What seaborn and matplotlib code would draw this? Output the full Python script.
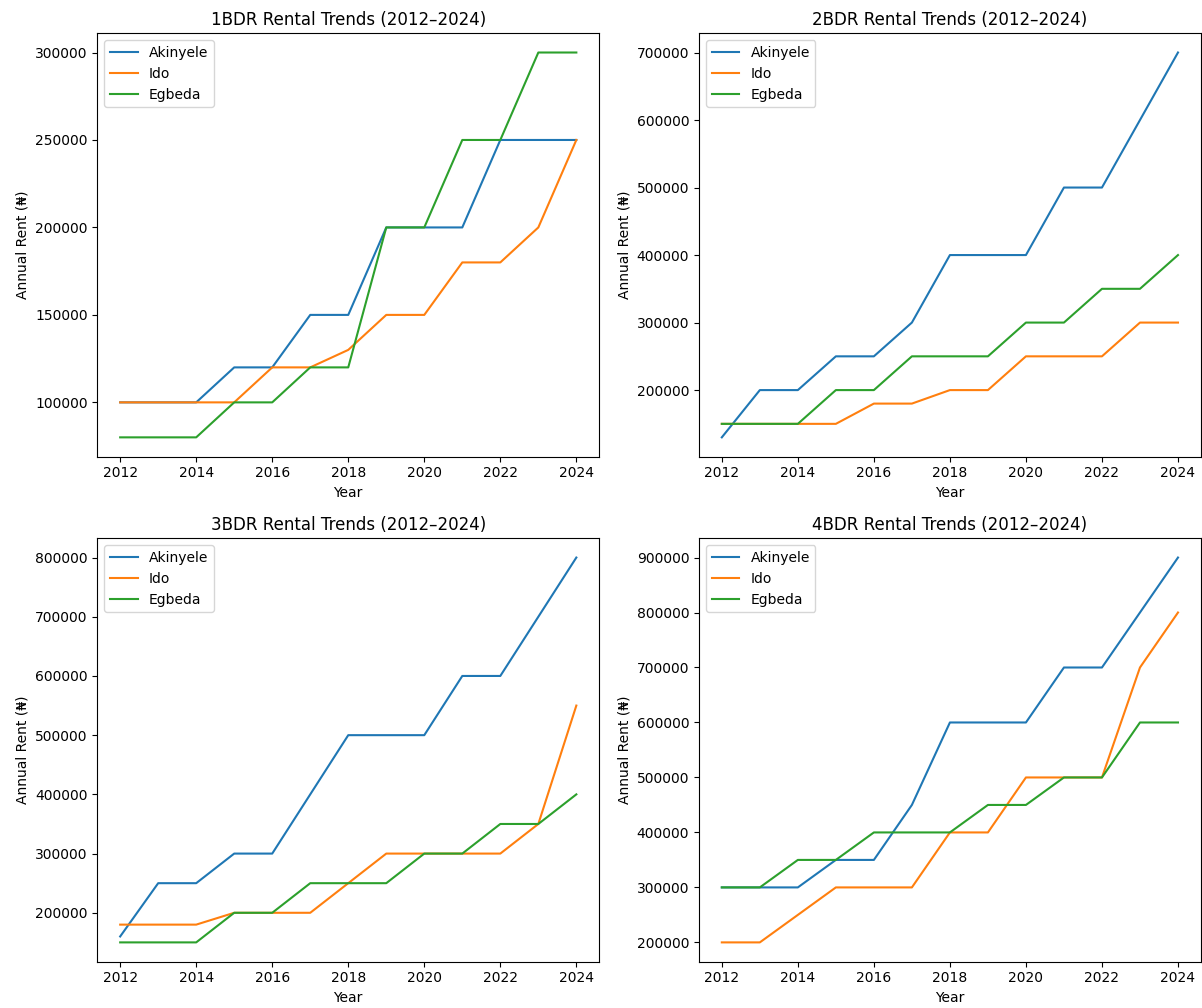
import pandas as pd
import matplotlib
matplotlib.use('Agg')
import matplotlib.pyplot as plt
import seaborn as sns

YEARS = list(range(2012, 2025))
AREAS = ['Akinyele', 'Ido', 'Egbeda']

# annual rent per area, one list per bedroom type
rent_1bdr = {
    'Akinyele': [100000, 100000, 100000, 120000, 120000, 150000, 150000, 200000, 200000, 200000, 250000, 250000, 250000],
    'Ido':      [100000, 100000, 100000, 100000, 120000, 120000, 130000, 150000, 150000, 180000, 180000, 200000, 250000],
    'Egbeda':   [80000, 80000, 80000, 100000, 100000, 120000, 120000, 200000, 200000, 250000, 250000, 300000, 300000],
}
rent_2bdr = {
    'Akinyele': [130000, 200000, 200000, 250000, 250000, 300000, 400000, 400000, 400000, 500000, 500000, 600000, 700000],
    'Ido':      [150000, 150000, 150000, 150000, 180000, 180000, 200000, 200000, 250000, 250000, 250000, 300000, 300000],
    'Egbeda':   [150000, 150000, 150000, 200000, 200000, 250000, 250000, 250000, 300000, 300000, 350000, 350000, 400000],
}
rent_3bdr = {
    'Akinyele': [160000, 250000, 250000, 300000, 300000, 400000, 500000, 500000, 500000, 600000, 600000, 700000, 800000],
    'Ido':      [180000, 180000, 180000, 200000, 200000, 200000, 250000, 300000, 300000, 300000, 300000, 350000, 550000],
    'Egbeda':   [150000, 150000, 150000, 200000, 200000, 250000, 250000, 250000, 300000, 300000, 350000, 350000, 400000],
}
rent_4bdr = {
    'Akinyele': [300000, 300000, 300000, 350000, 350000, 450000, 600000, 600000, 600000, 700000, 700000, 800000, 900000],
    'Ido':      [200000, 200000, 250000, 300000, 300000, 300000, 400000, 400000, 500000, 500000, 500000, 700000, 800000],
    'Egbeda':   [300000, 300000, 350000, 350000, 400000, 400000, 400000, 450000, 450000, 500000, 500000, 600000, 600000],
}

BEDROOMS = ['1BDR', '2BDR', '3BDR', '4BDR']
RENTS = [rent_1bdr, rent_2bdr, rent_3bdr, rent_4bdr]


def to_long(rent):
    rows = []
    for area in AREAS:
        for year, value in zip(YEARS, rent[area]):
            rows.append({'Year': year, 'Area': area, 'Rent': value})
    return pd.DataFrame(rows)


def main():
    fig, axes = plt.subplots(2, 2, figsize=(12.02, 10.08), dpi=100)
    fig.subplots_adjust(left=0.081, right=0.999, bottom=0.046, top=0.967,
                        wspace=0.199, hspace=0.193)

    for ax, bdr, rent in zip(axes.flat, BEDROOMS, RENTS):
        df = to_long(rent)
        sns.lineplot(data=df, x='Year', y='Rent', hue='Area', hue_order=AREAS,
                     palette=['#1f77b4', '#ff7f0e', '#2ca02c'], ax=ax)
        ax.set_title(f'{bdr} Rental Trends (2012\u20132024)')
        ax.set_xlabel('Year')
        ax.set_ylabel('Annual Rent (\u20a6)')
        ax.legend(loc='upper left')

    fig.savefig('out.png', dpi=100)


if __name__ == '__main__':
    main()
